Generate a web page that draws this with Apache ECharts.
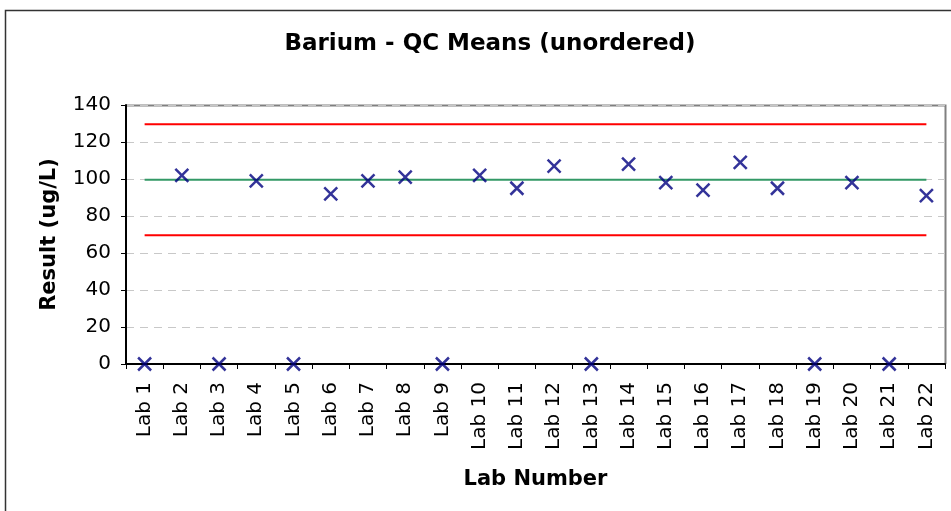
<!DOCTYPE html>
<html>
<head>
<meta charset="utf-8">
<script src="https://cdn.jsdelivr.net/npm/echarts@6/dist/echarts.min.js"></script>
<style>
html, body { margin: 0; padding: 0; background: #fff; }
#main { width: 951px; height: 511px; }
</style>
</head>
<body>
<div id="main"></div>
<script>
var labs = ['Lab 1', 'Lab 2', 'Lab 3', 'Lab 4', 'Lab 5', 'Lab 6', 'Lab 7', 'Lab 8', 'Lab 9', 'Lab 10', 'Lab 11',
	'Lab 12', 'Lab 13', 'Lab 14', 'Lab 15', 'Lab 16', 'Lab 17', 'Lab 18', 'Lab 19', 'Lab 20', 'Lab 21', 'Lab 22'];
var results = [0, 102, 0, 99, 0, 92, 99, 101, 0, 102, 95, 107, 0, 108, 98, 94, 109, 95, 0, 98, 0, 91];
var meanValue = 99.6;
var upperLimit = 129.6;
var lowerLimit = 69.6;
var yTicks = [0, 20, 40, 60, 80, 100, 120, 140];

var font = 'DejaVu Sans, Verdana, sans-serif';

// reference lines run from the first lab to the last one
function flat(v) {
	var arr = [];
	for (var i = 0; i < labs.length; i++) {
		arr.push(v);
	}
	return arr;
}

var myChart = echarts.init(document.getElementById('main'));
var option = {
	animation : false,
	title : {
		text : 'Barium - QC Means (unordered)',
		left : 485,
		textAlign : 'center',
		top : 28,
		textStyle : { fontFamily : font, fontSize : 23, fontWeight : 'bold', color : '#000' }
	},
	graphic : [ {
		type : 'rect',
		shape : { x : 5.5, y : 10.5, width : 960, height : 520 },
		style : { fill : 'none', stroke : '#333', lineWidth : 1.5 }
	}, {
		type : 'polyline',
		shape : { points : [ [ 126, 105.5 ], [ 945.5, 105.5 ], [ 945.5, 364 ] ] },
		style : { fill : 'none', stroke : '#808080', lineWidth : 2 }
	} ],
	grid : { left : 126, right : 6, top : 105, bottom : 147 },
	xAxis : {
		type : 'category',
		data : labs,
		boundaryGap : true,
		name : 'Lab Number',
		nameLocation : 'middle',
		nameGap : 105,
		nameTextStyle : { fontFamily : font, fontSize : 21, fontWeight : 'bold', color : '#000' },
		axisLine : { lineStyle : { color : '#000', width : 2 } },
		axisTick : { show : true, length : 5, lineStyle : { color : '#000', width : 1 } },
		axisLabel : {
			rotate : 90,
			interval : 0,
			margin : 18,
			fontFamily : font,
			fontSize : 20,
			color : '#000'
		}
	},
	yAxis : {
		type : 'value',
		min : 0,
		max : 140,
		interval : 20,
		name : 'Result (ug/L)',
		nameLocation : 'middle',
		nameGap : 66,
		nameTextStyle : { fontFamily : font, fontSize : 21, fontWeight : 'bold', color : '#000' },
		axisLine : { show : true, lineStyle : { color : '#000', width : 2 } },
		axisTick : { show : true, length : 5, lineStyle : { color : '#000' } },
		axisLabel : {
			margin : 15,
			fontFamily : font,
			fontSize : 20,
			color : '#000',
			formatter : function(v) {
				return yTicks.indexOf(v) >= 0 ? String(v) : '';
			}
		},
		splitLine : { show : true, lineStyle : { color : '#c8c8c8', type : [ 8, 6 ], width : 1 } }
	},
	series : [ {
		name : 'Upper',
		type : 'line',
		data : flat(upperLimit),
		symbol : 'none',
		lineStyle : { color : '#ff0000', width : 2 },
		z : 2
	}, {
		name : 'Lower',
		type : 'line',
		data : flat(lowerLimit),
		symbol : 'none',
		lineStyle : { color : '#ff0000', width : 2 },
		z : 2
	}, {
		name : 'Mean',
		type : 'line',
		data : flat(meanValue),
		symbol : 'none',
		lineStyle : { color : '#339966', width : 2 },
		z : 2
	}, {
		name : 'Result',
		type : 'scatter',
		data : results,
		symbol : 'path://M0,0L10,10M10,0L0,10',
		symbolSize : 13,
		itemStyle : { color : 'none', borderColor : '#000080', borderWidth : 2.5 },
		z : 5
	} ]
};
myChart.setOption(option);
</script>
</body>
</html>
